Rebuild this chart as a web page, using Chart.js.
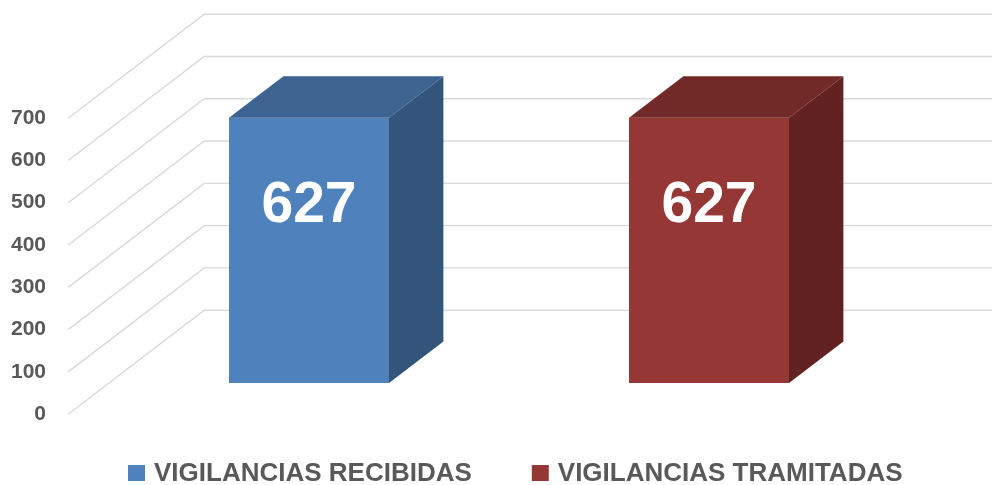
<!DOCTYPE html>
<html>
<head>
<meta charset="utf-8">
<script src="https://cdn.jsdelivr.net/npm/chart.js@4.4.1/dist/chart.umd.min.js"></script>
<style>
  html, body { margin: 0; padding: 0; background: #fff; }
  #wrap { width: 992px; height: 485px; }
</style>
</head>
<body>
<div id="wrap"><canvas id="chart" width="992" height="485"></canvas></div>
<script>
// chart data
const categories = ['VIGILANCIAS RECIBIDAS', 'VIGILANCIAS TRAMITADAS'];
const values = [627, 627];
const yTicks = [0, 100, 200, 300, 400, 500, 600, 700];

// face colours: front / top / side
const FRONT = ['#4F81BD', '#953735'];
const TOP = ['#3D6390', '#722A29'];
const SIDE = ['#34557B', '#632222'];

// 3D depth of the whole plot (front plane -> back wall)
const DEPTH_X = 136, DEPTH_Y = 104;
const BAR_FRONT = 0.3;   // bar front face sits 30% into the depth
const BAR_DEPTH = 0.4;   // bar takes 40% of the depth

const box3d = {
    id: 'box3d',
    beforeDatasetsDraw(chart) {
        const { ctx, chartArea, scales } = chart;
        const fx = -BAR_FRONT * DEPTH_X, fy = BAR_FRONT * DEPTH_Y;
        const bx = (1 - BAR_FRONT) * DEPTH_X, by = -(1 - BAR_FRONT) * DEPTH_Y;
        ctx.save();
        ctx.strokeStyle = '#D9D9D9';
        ctx.lineWidth = 1.4;
        yTicks.forEach(v => {
            const y = scales.y.getPixelForValue(v);
            ctx.beginPath();
            ctx.moveTo(chartArea.left + fx, y + fy);
            ctx.lineTo(chartArea.left + bx, y + by);
            ctx.lineTo(chart.width + 5, y + by);
            ctx.stroke();
        });
        ctx.restore();
    },
    afterDatasetsDraw(chart) {
        const { ctx } = chart;
        const meta = chart.getDatasetMeta(0);
        const dx = BAR_DEPTH * DEPTH_X, dy = -BAR_DEPTH * DEPTH_Y;
        ctx.save();
        meta.data.forEach((bar, i) => {
            const p = bar.getProps(['x', 'y', 'base', 'width'], true);
            const x1 = p.x - p.width / 2, x2 = p.x + p.width / 2;
            // top face
            ctx.fillStyle = TOP[i];
            ctx.beginPath();
            ctx.moveTo(x1, p.y);
            ctx.lineTo(x1 + dx, p.y + dy);
            ctx.lineTo(x2 + dx, p.y + dy);
            ctx.lineTo(x2, p.y);
            ctx.closePath();
            ctx.fill();
            // side face
            ctx.fillStyle = SIDE[i];
            ctx.beginPath();
            ctx.moveTo(x2, p.y);
            ctx.lineTo(x2 + dx, p.y + dy);
            ctx.lineTo(x2 + dx, p.base + dy);
            ctx.lineTo(x2, p.base);
            ctx.closePath();
            ctx.fill();
            // value label
            ctx.fillStyle = '#ffffff';
            ctx.font = 'bold 57px "Liberation Sans", Arial, sans-serif';
            ctx.textAlign = 'center';
            ctx.textBaseline = 'alphabetic';
            ctx.fillText(String(values[i]), p.x, p.y + 104);
        });
        ctx.restore();
    },
    afterDraw(chart) {
        // legend row under the plot
        const { ctx } = chart;
        ctx.save();
        ctx.font = 'bold 26px "Liberation Sans", Arial, sans-serif';
        ctx.textBaseline = 'alphabetic';
        ctx.textAlign = 'left';
        let x = 128;
        const base = 481;
        categories.forEach((name, i) => {
            ctx.fillStyle = FRONT[i];
            ctx.fillRect(x, base - 16, 17, 16);
            ctx.fillStyle = '#595959';
            ctx.fillText(name, x + 26, base);
            x += 26 + ctx.measureText(name).width + 60;
        });
        ctx.restore();
    }
};

new Chart(document.getElementById('chart'), {
    type: 'bar',
    data: {
        labels: categories,
        datasets: [{
            data: values,
            backgroundColor: FRONT,
            borderWidth: 0,
            categoryPercentage: 1,
            barPercentage: 0.4
        }]
    },
    options: {
        responsive: false,
        animation: false,
        layout: { padding: { top: 87, right: 83, bottom: 102, left: 0 } },
        plugins: {
            tooltip: { enabled: false },
            legend: { display: false }
        },
        scales: {
            x: { display: false },
            y: {
                min: 0,
                max: 700,
                afterFit: axis => { axis.width = 109; },
                border: { display: false },
                grid: { display: false, drawTicks: false },
                ticks: {
                    stepSize: 100,
                    padding: 63,
                    labelOffset: 31,
                    color: '#595959',
                    font: { family: '"Liberation Sans", sans-serif', size: 21, weight: 'bold' }
                }
            }
        }
    },
    plugins: [box3d]
});
</script>
</body>
</html>
